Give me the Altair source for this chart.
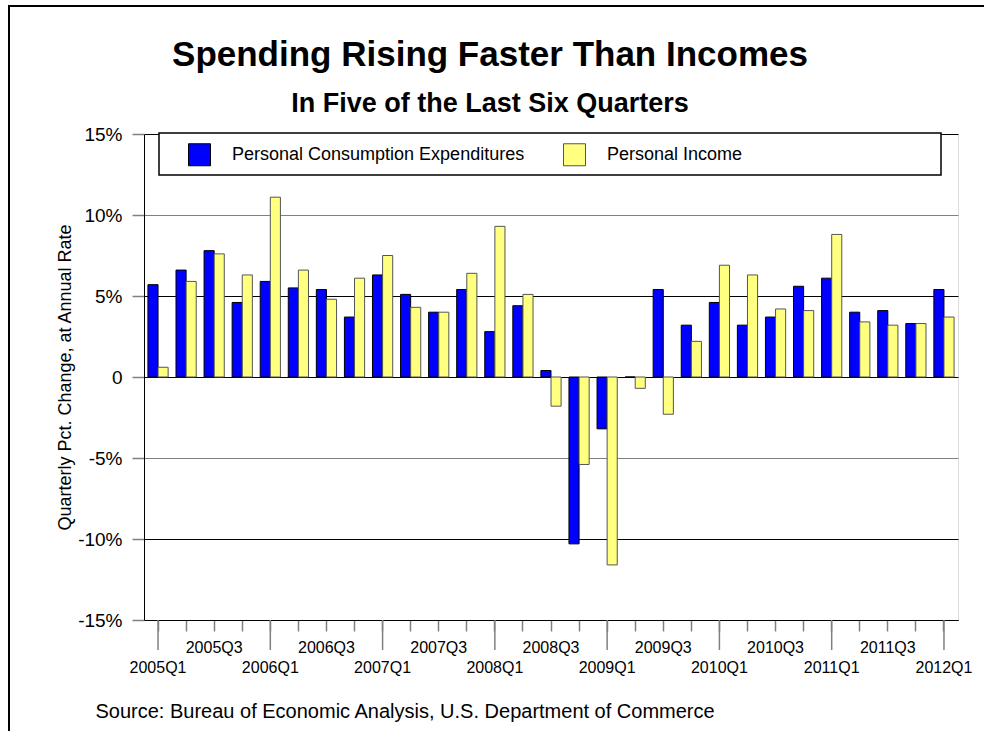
import altair as alt
import pandas as pd

quarters = ["2005Q1", "2005Q2", "2005Q3", "2005Q4", "2006Q1", "2006Q2", "2006Q3", "2006Q4",
            "2007Q1", "2007Q2", "2007Q3", "2007Q4", "2008Q1", "2008Q2", "2008Q3", "2008Q4",
            "2009Q1", "2009Q2", "2009Q3", "2009Q4", "2010Q1", "2010Q2", "2010Q3", "2010Q4",
            "2011Q1", "2011Q2", "2011Q3", "2011Q4", "2012Q1"]
pce = [5.7, 6.6, 7.8, 4.6, 5.9, 5.5, 5.4, 3.7, 6.3, 5.1, 4.0, 5.4, 2.8, 4.4, 0.4, -10.3,
       -3.2, 0.0, 5.4, 3.2, 4.6, 3.2, 3.7, 5.6, 6.1, 4.0, 4.1, 3.3, 5.4]
pi = [0.6, 5.9, 7.6, 6.3, 11.1, 6.6, 4.8, 6.1, 7.5, 4.3, 4.0, 6.4, 9.3, 5.1, -1.8, -5.4,
      -11.6, -0.7, -2.3, 2.2, 6.9, 6.3, 4.2, 4.1, 8.8, 3.4, 3.2, 3.3, 3.7]
series_names = ["Personal Consumption Expenditures", "Personal Income"]
series_colors = ["#0000FF", "#FFFF80"]
series_strokes = ["#000000", "#555555"]
y_ticks = [-15, -10, -5, 0, 5, 10, 15]

rows = []
for q, a, b in zip(quarters, pce, pi):
    rows.append({"quarter": q, "series": series_names[0], "value": a})
    rows.append({"quarter": q, "series": series_names[1], "value": b})
df = pd.DataFrame(rows)
q1_df = pd.DataFrame({"quarter": [q for q in quarters if q.endswith("Q1")]})

FONT = "Liberation Sans"
W, H = 814, 486

x_scale = alt.Scale(domain=quarters, paddingInner=0.28, paddingOuter=0.14)
x_axis = alt.Axis(
    title="Source: Bureau of Economic Analysis, U.S. Department of Commerce",
    titleX=-49, titleY=91, titleAlign="left", titleAnchor="start", titleBaseline="middle",
    titleFontSize=20, titleFontWeight="normal", titleFont=FONT, titleColor="black",
    labelAngle=0, labelFont=FONT, labelFontSize=16, labelColor="black",
    labelBaseline="top", labelPadding=8, labelLineHeight=20,
    labelExpr="indexof(datum.label,'Q1')>=0 ? ['', datum.label] : (indexof(datum.label,'Q3')>=0 ? datum.label : '')",
    tickSize=11, tickColor="#808080", tickWidth=1.5, bandPosition=0.5,
    domainColor="black", domainWidth=1, grid=False, labelOverlap=False,
)

frame = alt.Chart(alt.Data(values=[{}])).mark_rect(
    fill="transparent", stroke="black", strokeWidth=2
).encode(
    x=alt.value(-135), x2=alt.value(1000), y=alt.value(-128), y2=alt.value(1000)
)

bars = alt.Chart(df).mark_bar(strokeWidth=1, opacity=1).encode(
    x=alt.X("quarter:N", scale=x_scale, axis=x_axis),
    xOffset=alt.XOffset("series:N", scale=alt.Scale(domain=series_names, paddingInner=0, paddingOuter=0)),
    y=alt.Y("value:Q", scale=alt.Scale(domain=[-15, 15], nice=False),
            axis=alt.Axis(
                values=y_ticks, labelExpr="datum.value == 0 ? '0' : datum.value + '%'",
                labelFont=FONT, labelFontSize=19, labelColor="black", labelPadding=10,
                tickSize=12, tickColor="#808080", tickWidth=1.5,
                domainColor="black", domainWidth=1,
                grid=True,
                gridColor=alt.condition("datum.value == 10 || datum.value == -5",
                                        alt.value("#808080"), alt.value("#000000")),
                gridWidth=1.2,
                title="Quarterly Pct. Change, at Annual Rate",
                titleFont=FONT, titleFontSize=18, titleFontWeight="normal", titleColor="black",
                titleX=-79, titleY=243, titleAngle=-90, titleAlign="center", titleBaseline="middle",
            )),
    color=alt.Color("series:N", scale=alt.Scale(domain=series_names, range=series_colors),
                    legend=alt.Legend(
                        orient="none", legendX=44, legendY=9, direction="horizontal",
                        title=None, symbolType="square", symbolSize=484,
                        symbolStrokeColor="#222222", symbolStrokeWidth=1, symbolOpacity=1,
                        labelFont=FONT, labelFontSize=18, labelColor="black",
                        labelOffset=21, columnPadding=36, padding=0, labelLimit=400,
                    )),
    stroke=alt.Stroke("series:N", scale=alt.Scale(domain=series_names, range=series_strokes),
                      legend=None),
)

long_ticks = alt.Chart(q1_df).mark_rule(color="#808080", strokeWidth=1.5).encode(
    x=alt.X("quarter:N", scale=x_scale, axis=x_axis),
    y=alt.value(H), y2=alt.value(H + 30),
)

legend_box = alt.Chart(alt.Data(values=[{}])).mark_rect(
    fill="white", stroke="black", strokeWidth=1.5
).encode(
    x=alt.value(15), x2=alt.value(797), y=alt.value(-1), y2=alt.value(41)
)

chart = alt.layer(frame, bars, long_ticks, legend_box).properties(
    width=W, height=H,
    padding={"left": 144, "top": 134, "right": 26, "bottom": 111},
    autosize=alt.AutoSizeParams(type="none"),
    title=alt.Title(
        "Spending Rising Faster Than Incomes",
        subtitle="In Five of the Last Six Quarters",
        font=FONT, fontSize=35, fontWeight="bold", color="black",
        subtitleFont=FONT, subtitleFontSize=27, subtitleFontWeight="bold", subtitleColor="black",
        subtitlePadding=18, anchor="middle", frame="group", dx=-61, offset=-112,
    ),
).configure_view(stroke=None).configure(background="white")

chart.save("out.html", embed_options={"renderer": "svg", "actions": False})
